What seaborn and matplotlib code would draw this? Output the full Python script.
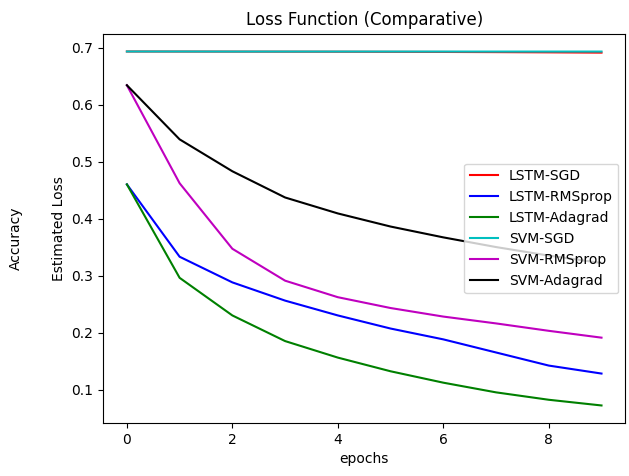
import numpy as np
import pandas as pd
import seaborn as sns
import matplotlib.pyplot as plt

# >>>>> 1. Data
epochs = list(range(10))

lstm_sgd = [0.6932, 0.6931, 0.6930, 0.6929, 0.6928, 0.6926, 0.6924, 0.6921, 0.6917, 0.6912]
lstm_rmsprop = [0.460, 0.333, 0.288, 0.256, 0.230, 0.207, 0.188, 0.165, 0.142, 0.128]
lstm_adagrad = [0.460, 0.296, 0.230, 0.185, 0.156, 0.132, 0.112, 0.095, 0.082, 0.072]
svm_sgd = [0.6932, 0.6932, 0.6931, 0.6931, 0.6931, 0.6931, 0.6931, 0.6931, 0.6931, 0.6931]
svm_rmsprop = [0.634, 0.462, 0.347, 0.291, 0.262, 0.243, 0.228, 0.216, 0.203, 0.191]
svm_adagrad = [0.634, 0.539, 0.483, 0.437, 0.409, 0.386, 0.367, 0.350, 0.335, 0.322]

labels = ["LSTM-SGD", "LSTM-RMSprop", "LSTM-Adagrad", "SVM-SGD", "SVM-RMSprop", "SVM-Adagrad"]
series = [lstm_sgd, lstm_rmsprop, lstm_adagrad, svm_sgd, svm_rmsprop, svm_adagrad]
colors = ["r", "b", "g", "c", "m", "k"]
# <<<<< 1. Data

# >>>>> 2. Plot
fig, ax = plt.subplots(figsize=(6.29, 4.76), dpi=100)

for lab, vals, col in zip(labels, series, colors):
    sns.lineplot(x=epochs, y=vals, color=col, label=lab, ax=ax, linewidth=1.5)

ax.set_title("Loss Function (Comparative)")
ax.set_xlabel("epochs")
ax.set_ylabel("Estimated Loss")
ax.legend(loc="right")

fig.text(0.025, 0.5, "Accuracy", rotation=90, va="center", ha="center", fontsize=10)

plt.subplots_adjust(left=0.164, right=0.994, top=0.929, bottom=0.111)
fig.savefig("out.png", dpi=100)
# <<<<< 2. Plot
